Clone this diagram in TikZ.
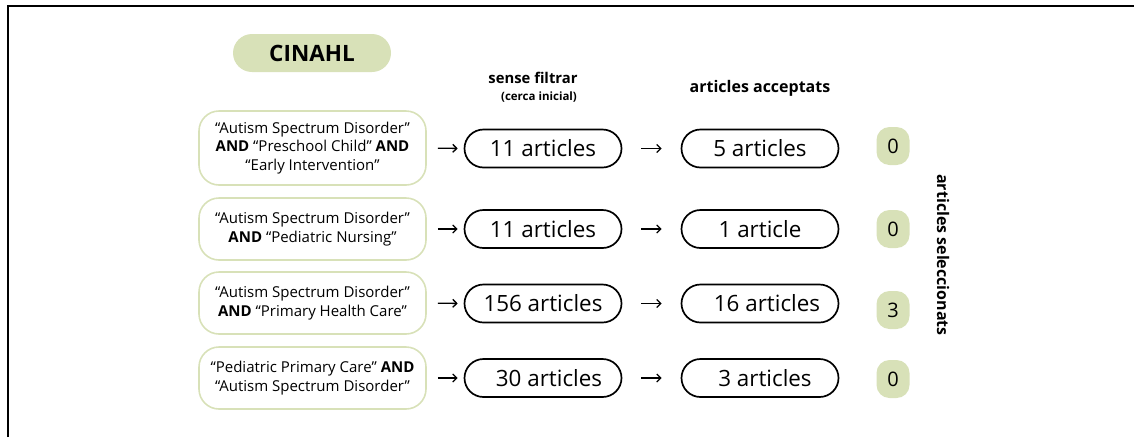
\documentclass[tikz,border=0pt]{standalone}
\usepackage{fontspec}
\setmainfont{Open Sans}
\usetikzlibrary{arrows.meta}
\definecolor{qgreen}{HTML}{D8E1B8}
\tikzset{
  query/.style={draw=qgreen, line width=1.6pt, rounded corners=20pt, minimum width=227pt, minimum height=62pt, align=center, font=\fontsize{15}{18.5}\selectfont, inner sep=0pt},
  pill/.style={draw=black, line width=1.7pt, rounded corners=19pt, minimum width=157pt, minimum height=38pt, font=\fontsize{22.4}{26}\selectfont, inner sep=0pt},
  countbox/.style={fill=qgreen, rounded corners=13pt, minimum width=33pt, minimum height=38pt, font=\fontsize{20}{24}\selectfont, inner sep=0pt},
  hdr/.style={font=\bfseries\fontsize{16}{19}\selectfont, inner sep=0pt},
  conn/.style={line width=1.3pt, -{Straight Barb[length=4pt,width=8pt]}}
}
\begin{document}
\begin{tikzpicture}[x=1pt,y=-1pt]
\useasboundingbox (0,0) rectangle (1134,437);
\draw[line width=2.6pt] (8,437) -- (8,6) -- (1134,6);
\node[fill=qgreen, rounded corners=19pt, minimum width=158pt, minimum height=38pt, font=\bfseries\fontsize{22.5}{26}\selectfont] (db) at (312,53) {CINAHL};
\node[font=\bfseries\fontsize{14.8}{18}\selectfont, inner sep=0pt] (h1) at (533,78) {sense filtrar};
\node[font=\bfseries\fontsize{11.5}{14}\selectfont, inner sep=0pt] (h1b) at (539,97) {(cerca inicial)};
\node[hdr] (h2) at (760,88) {articles acceptats};
\node[hdr, rotate=-90] (h3) at (943,255) {articles seleccionats};
% rows
\node[query, minimum height=74pt] (q1) at (312.5,148) {“Autism Spectrum Disorder”\\\textbf{AND} “Preschool Child” \textbf{AND}\\“Early Intervention”};
\node[query] (q2) at (312.5,229) {“Autism Spectrum Disorder”\\\textbf{AND} “Pediatric Nursing”};
\node[query] (q3) at (312.5,303) {“Autism Spectrum Disorder”\\\textbf{AND} “Primary Health Care”};
\node[query] (q4) at (312.5,378) {“Pediatric Primary Care” \textbf{AND}\\“Autism Spectrum Disorder”};
\node[pill] (f1) at (543,148.5) {11 articles};
\node[pill] (f2) at (543,229) {11 articles};
\node[pill] (f3) at (543,303.5) {156 articles};
\node[pill] (f4) at (543,378) {\hspace*{12pt}30 articles};
\node[pill] (a1) at (760,148.5) {5 articles};
\node[pill] (a2) at (760,229) {1 article};
\node[pill] (a3) at (760,303.5) {\hspace*{14pt}16 articles};
\node[pill] (a4) at (760,378) {\hspace*{10pt}3 articles};
\node[countbox] (c1) at (893,146) {0};
\node[countbox] (c2) at (893,229) {0};
\node[countbox] (c3) at (893,310) {3};
\node[countbox] (c4) at (893,379) {0};
\foreach \i in {1,2,3,4}{
  \draw[conn, shorten <=11pt, shorten >=6pt] (q\i.east) -- (f\i.west);
  \draw[conn, shorten <=19pt, shorten >=19pt] (f\i.east) -- (a\i.west);
}
\end{tikzpicture}
\end{document}
